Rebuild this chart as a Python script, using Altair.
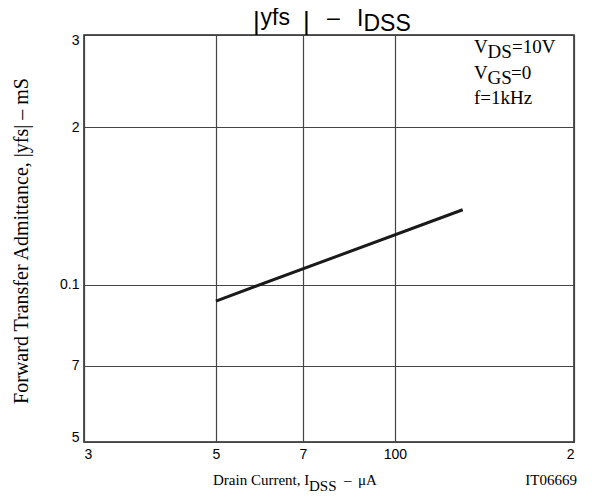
import altair as alt
import pandas as pd

# ---- data ----
idss_uA = [50, 130]          # Drain current I_DSS (uA)
yfs_mS = [0.093, 0.139]      # |yfs| (mS)

x_ticks = [30, 50, 70, 100, 200]
x_tick_labels = ["3", "5", "7", "100", "2"]
y_ticks = [0.05, 0.07, 0.1, 0.2, 0.3]
y_tick_labels = ["5", "7", "0.1", "2", "3"]

title_parts = ["|", "yfs", "|", "\u2013", "I", "DSS"]
cond_parts = ["V", "DS", "=10V", "V", "GS", "=0", "f=1kHz"]
xtitle_parts = ["Drain Current, I", "DSS", "\u2013", "\u03bcA"]
y_title = "Forward Transfer Admittance, |yfs|  \u2013  mS"
code_label = "IT06669"

df = pd.DataFrame({"I": idss_uA, "Y": yfs_mS})

W, H = 490, 407
SANS = "Liberation Sans"
SERIF = "Liberation Serif"


def lab_expr(vals, labs):
    return "[" + ",".join("'%s'" % l for l in labs) + "][indexof([" + ",".join(str(v) for v in vals) + "], datum.value)]"


line = alt.Chart(df).mark_line(color="#1a1a1a", strokeWidth=3).encode(
    x=alt.X("I:Q",
            scale=alt.Scale(type="log", domain=[30, 200], nice=False),
            axis=alt.Axis(values=x_ticks, labelExpr=lab_expr(x_ticks, x_tick_labels),
                          title=None, grid=True, labelFlush=True)),
    y=alt.Y("Y:Q",
            scale=alt.Scale(type="log", domain=[0.05, 0.3], nice=False),
            axis=alt.Axis(values=y_ticks, labelExpr=lab_expr(y_ticks, y_tick_labels),
                          title=y_title, grid=True, labelFlush=True, labelFlushOffset=2,
                          titleX=-63, titleY=H / 2 + 2, titleAngle=270,
                          titleAlign="center", titleBaseline="middle",
                          titleFont=SERIF, titleFontSize=20, titleFontWeight="normal",
                          titleColor="black")),
)


def txt(s, x, y, size, font, align="left"):
    return alt.Chart(alt.Data(values=[{}])).mark_text(
        text=s, font=font, fontSize=size, align=align, baseline="alphabetic", color="black"
    ).encode(x=alt.value(x), y=alt.value(y))


texts = [
    # title
    txt(title_parts[0], 169, -5, 26, SANS),
    txt(title_parts[1], 176.5, -10, 23, SANS),
    txt(title_parts[2], 219, -5, 26, SANS),
    txt(title_parts[3], 243, -10, 23, SANS),
    txt(title_parts[4], 273, -9, 23, SANS),
    txt(title_parts[5], 279.5, -4, 23, SANS),
    # conditions
    txt(cond_parts[0], 390, 18, 19, SERIF),
    txt(cond_parts[1], 403.5, 23, 19, SERIF),
    txt(cond_parts[2], 428, 18, 19, SERIF),
    txt(cond_parts[3], 390, 44, 19, SERIF),
    txt(cond_parts[4], 403.5, 49, 19, SERIF),
    txt(cond_parts[5], 427, 44, 19, SERIF),
    txt(cond_parts[6], 390, 69, 19, SERIF),
    # x title
    txt(xtitle_parts[0], 129, 450, 15, SERIF),
    txt(xtitle_parts[1], 225, 456, 15, SERIF),
    txt(xtitle_parts[2], 260, 450, 15, SERIF),
    txt(xtitle_parts[3], 274, 450, 15, SERIF),
    txt(code_label, 493, 450, 15, SERIF, align="right"),
]

chart = alt.layer(line, *texts).properties(
    width=W, height=H,
    autosize=alt.AutoSizeParams(type="none"),
    padding={"left": 76, "top": 27, "right": 10, "bottom": 54},
).configure_view(
    stroke="#222", strokeWidth=1.5
).configure_axis(
    domain=False, ticks=False, labelPadding=5,
    labelFont=SANS, labelFontSize=14, labelColor="black",
    gridColor="#444", gridWidth=1.2, gridOpacity=1,
)

chart.save("out.html", embed_options={"renderer": "svg", "actions": False})
